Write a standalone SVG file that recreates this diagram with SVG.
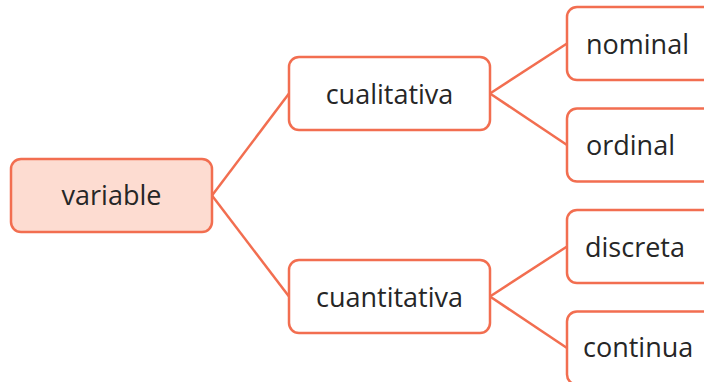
<svg xmlns="http://www.w3.org/2000/svg" width="704" height="382" viewBox="0 0 704 382">
<style>
.box{fill:#ffffff;stroke:#f26e50;stroke-width:2.5}
.root{fill:#fddcd1;stroke:#f26e50;stroke-width:2.5}
.lbl{font-family:"Open Sans","Noto Sans",sans-serif;font-size:27px;fill:#262626}
.c{text-anchor:middle}
.edge{stroke:#f26e50;stroke-width:2.5;fill:none}
</style>
<g id="connectors">
<line class="edge" x1="212" y1="195.5" x2="289" y2="93.5"/>
<line class="edge" x1="212" y1="195.5" x2="289" y2="296.5"/>
<line class="edge" x1="490" y1="93.5" x2="567" y2="43.5"/>
<line class="edge" x1="490" y1="93.5" x2="567" y2="145"/>
<line class="edge" x1="490" y1="296.5" x2="567" y2="246.5"/>
<line class="edge" x1="490" y1="296.5" x2="567" y2="348"/>
</g>
<g id="variable">
<rect class="root" x="11" y="159" width="201" height="73" rx="10"/>
<text class="lbl c" x="111.5" y="205">variable</text>
</g>
<g id="cualitativa">
<rect class="box" x="289" y="57" width="201" height="73" rx="10"/>
<text class="lbl c" x="389.5" y="104">cualitativa</text>
</g>
<g id="cuantitativa">
<rect class="box" x="289" y="260" width="201" height="73" rx="10"/>
<text class="lbl c" x="389.5" y="307">cuantitativa</text>
</g>
<g id="nominal">
<rect class="box" x="567" y="7" width="201" height="73" rx="10"/>
<text class="lbl" x="586" y="53.5">nominal</text>
</g>
<g id="ordinal">
<rect class="box" x="567" y="108.5" width="201" height="73" rx="10"/>
<text class="lbl" x="586" y="155">ordinal</text>
</g>
<g id="discreta">
<rect class="box" x="567" y="210" width="201" height="73" rx="10"/>
<text class="lbl" x="585" y="256.5">discreta</text>
</g>
<g id="continua">
<rect class="box" x="567" y="311.5" width="201" height="73" rx="10"/>
<text class="lbl" x="583" y="357">continua</text>
</g>
</svg>
